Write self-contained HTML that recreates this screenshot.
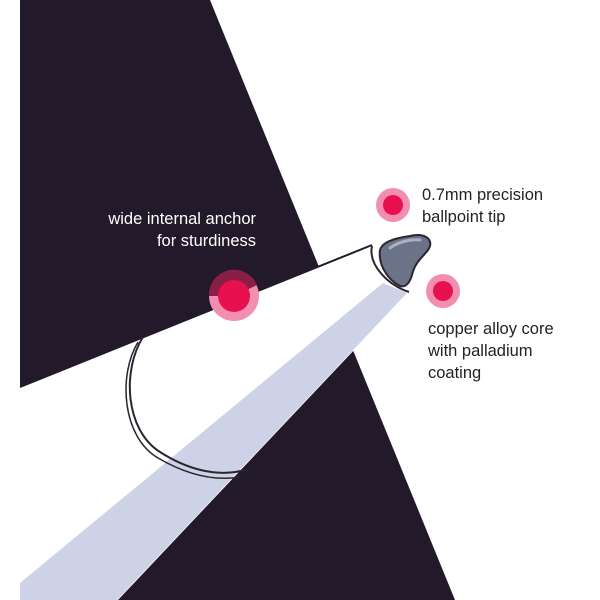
<!DOCTYPE html><html><head><style>body{margin:0;background:#fff}svg{display:block}text{font-family:"Liberation Sans",sans-serif;font-size:16.5px}</style></head><body>
<svg width="600" height="600" viewBox="0 0 600 600">
<rect width="600" height="600" fill="#fff"/>
<polygon points="20,0 210,0 455,600 20,600" fill="#221a2b"/>
<polygon points="20,387 372,245 395,240 410,282 407,294 118,600 20,600" fill="#fff"/>
<polygon points="20,583 383,283 407,293 117,600 20,600" fill="#cdd2e6"/>
<path d="M20,387 L372,245" stroke="#221a2b" stroke-width="2" fill="none"/>
<path d="M143,337 C122,370 125,430 160,452 C185,468 215,478 245,470" stroke="#2a2530" stroke-width="2" fill="none"/>
<path d="M138,342 C118,375 122,437 158,458 C182,472 210,482 240,477" stroke="#2a2530" stroke-width="1.5" fill="none"/>
<path d="M372,246 C368,265 388,285 409,292" stroke="#2a2530" stroke-width="2" fill="none"/>
<path d="M380,250 C382,242 395,238 410,236 C425,232 435,240 428,250 C422,258 415,262 412,275 C410,282 406,288 400,286 C388,280 378,265 380,250 Z" fill="#6b7388" stroke="#2a2530" stroke-width="2"/>
<path d="M390,248 C398,242 410,239 420,240" stroke="#a9b0c2" stroke-width="3" fill="none" stroke-linecap="round"/>
<circle cx="234" cy="296" r="25" fill="#f28fb0"/>
<path d="M209,296 A25,25 0 0 1 257,285 L234,296 Z" fill="#8a1e47"/>
<circle cx="234" cy="296" r="16" fill="#e8104e"/>
<circle cx="393" cy="205" r="17" fill="#f28fb0"/>
<circle cx="393" cy="205" r="10" fill="#e8104e"/>
<circle cx="443" cy="291" r="17" fill="#f28fb0"/>
<circle cx="443" cy="291" r="10" fill="#e8104e"/>
<text x="256" y="224" fill="#fff" text-anchor="end">wide internal anchor</text>
<text x="256" y="246" fill="#fff" text-anchor="end">for sturdiness</text>
<text x="422" y="200" fill="#222">0.7mm precision</text>
<text x="422" y="222" fill="#222">ballpoint tip</text>
<text x="428" y="334" fill="#222">copper alloy core</text>
<text x="428" y="356" fill="#222">with palladium</text>
<text x="428" y="378" fill="#222">coating</text>
</svg></body></html>
